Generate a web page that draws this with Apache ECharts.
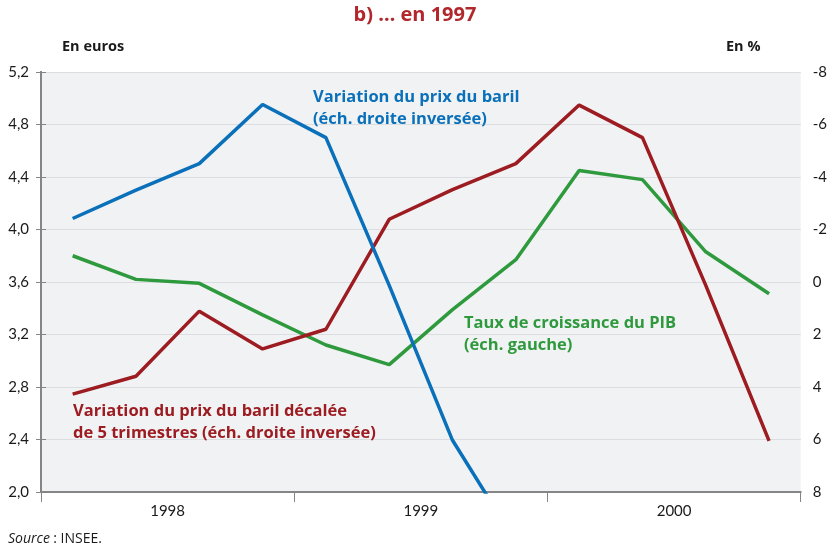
<!DOCTYPE html>
<html>
<head>
<meta charset="utf-8">
<script src="https://cdn.jsdelivr.net/npm/echarts@6/dist/echarts.min.js"></script>
<style>
html,body{margin:0;padding:0;background:#fff;}
#c{width:830px;height:551px;}
</style>
</head>
<body>
<div id="c"></div>
<script>
// ---- Data ----
const quarters = ['1998T1','1998T2','1998T3','1998T4','1999T1','1999T2','1999T3','1999T4','2000T1','2000T2','2000T3','2000T4'];
const years = ['1998','1999','2000'];
const pibGrowth = [3.80, 3.62, 3.59, 3.35, 3.12, 2.97, 3.39, 3.77, 4.45, 4.38, 3.83, 3.51];
const oilChange = [-2.42, -3.50, -4.51, -6.76, -5.50, 0.13, 6.03, 9.9, null, null, null, null];
const oilChangeLag5 = [4.27, 3.59, 1.11, 2.55, 1.80, -2.39, -3.52, -4.51, -6.74, -5.50, 0.13, 6.05];
const leftTicks = {min: 2.0, max: 5.2, step: 0.4};
const rightTicks = {min: -8, max: 8, step: 2};

const FONT = 'Lato, "Noto Sans", sans-serif';
const AFONT = '"Open Sans", "Noto Sans", sans-serif';
const BLUE = '#0b70ba', RED = '#9c1c21', GREEN = '#2e9a3d', TITLE = '#b1272c';

const chart = echarts.init(document.getElementById('c'), null, {renderer: 'canvas'});
chart.setOption({
  animation: false,
  backgroundColor: '#ffffff',
  grid: {left: 41, right: 29, top: 72, bottom: 59, show: true, backgroundColor: '#f1f2f4', borderWidth: 0},
  xAxis: [
    {type: 'category', data: quarters, boundaryGap: true, show: false, gridIndex: 0},
    {type: 'value', min: 0, max: 12, interval: 2, position: 'bottom', gridIndex: 0,
      axisLine: {show: false}, axisTick: {show: false}, splitLine: {show: false},
      axisLabel: {margin: 12, color: '#1a1a1a', fontFamily: FONT, fontSize: 15,
        formatter: v => (v % 4 === 2) ? years[(v - 2) / 4] : ''}},
    {type: 'value', min: 0, max: 12, interval: 4, position: 'bottom', gridIndex: 0,
      axisLine: {show: true, lineStyle: {color: '#858585', width: 2}},
      axisTick: {show: true, length: 10, lineStyle: {color: '#858585', width: 1}},
      axisLabel: {show: false}, splitLine: {show: false}}
  ],
  yAxis: [
    {type: 'value', min: leftTicks.min, max: leftTicks.max, interval: leftTicks.step, position: 'left',
      axisLine: {show: true, lineStyle: {color: '#858585', width: 2}},
      axisTick: {show: true, length: 5, lineStyle: {color: '#858585'}},
      splitLine: {show: true, lineStyle: {color: '#dcdde0', width: 1}},
      axisLabel: {margin: 12, color: '#1a1a1a', fontFamily: FONT, fontSize: 15,
        formatter: v => v.toFixed(1).replace('.', ',')}},
    {type: 'value', min: rightTicks.min, max: rightTicks.max, interval: rightTicks.step, position: 'right', inverse: true,
      axisLine: {show: true, lineStyle: {color: '#858585', width: 2}},
      axisTick: {show: true, length: 5, lineStyle: {color: '#858585'}},
      splitLine: {show: false},
      axisLabel: {margin: 12, color: '#1a1a1a', fontFamily: FONT, fontSize: 15}}
  ],
  series: [
    {name: 'Taux de croissance du PIB', type: 'line', xAxisIndex: 0, yAxisIndex: 0, data: pibGrowth,
      symbol: 'none', lineStyle: {color: GREEN, width: 3.5}, itemStyle: {color: GREEN}, z: 3},
    {name: 'Variation du prix du baril décalée', type: 'line', xAxisIndex: 0, yAxisIndex: 1, data: oilChangeLag5,
      symbol: 'none', lineStyle: {color: RED, width: 3.5}, itemStyle: {color: RED}, z: 4},
    {name: 'Variation du prix du baril', type: 'line', xAxisIndex: 0, yAxisIndex: 1, data: oilChange,
      symbol: 'none', clip: true, lineStyle: {color: BLUE, width: 3.5}, itemStyle: {color: BLUE}, z: 5}
  ],
  graphic: [
    {type: 'text', left: 'center', top: 5, style: {text: 'b) … en 1997', fill: TITLE, font: 'bold 20px ' + AFONT}},
    {type: 'text', left: 62, top: 39, style: {text: 'En euros', fill: '#1a1a1a', font: 'bold 14.5px ' + AFONT}},
    {type: 'text', left: 726, top: 39, style: {text: 'En %', fill: '#1a1a1a', font: 'bold 14.5px ' + AFONT}},
    {type: 'text', left: 313, top: 87, z: 10, style: {text: 'Variation du prix du baril\n(éch. droite inversée)', fill: BLUE, font: 'bold 16.5px ' + AFONT, lineHeight: 21.5}},
    {type: 'text', left: 73, top: 401, z: 10, style: {text: 'Variation du prix du baril décalée\nde 5 trimestres (éch. droite inversée)', fill: RED, font: 'bold 16.5px ' + AFONT, lineHeight: 21.5}},
    {type: 'text', left: 464, top: 313, z: 10, style: {text: 'Taux de croissance du PIB\n(éch. gauche)', fill: GREEN, font: 'bold 16.5px ' + AFONT, lineHeight: 21.5}},
    {type: 'text', left: 8, top: 532, style: {rich: {i: {fontStyle: 'italic', fontFamily: AFONT, fontSize: 14, fill: '#1a1a1a'}, n: {fontFamily: AFONT, fontSize: 14, fill: '#1a1a1a'}}, text: '{i|Source} {n|: INSEE.}'}}
  ]
});
</script>
</body>
</html>
